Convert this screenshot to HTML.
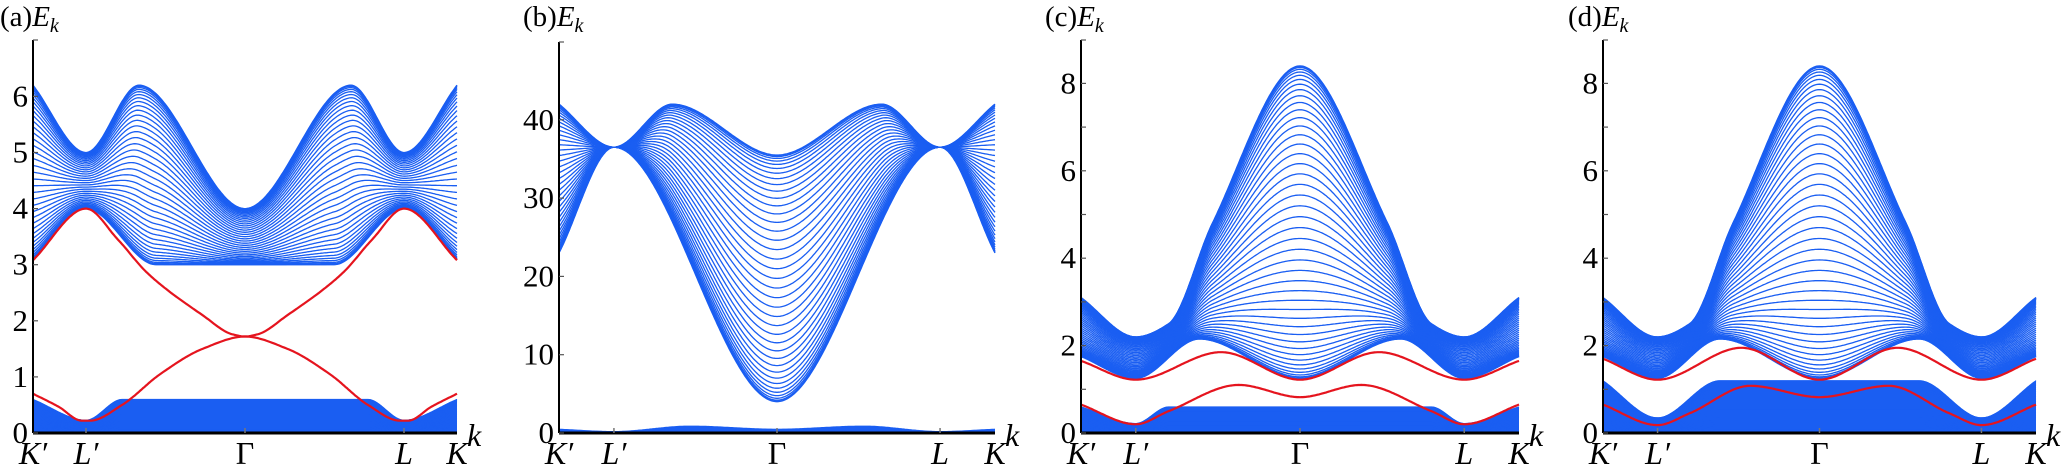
<!DOCTYPE html>
<html><head><meta charset="utf-8"><style>
html,body{margin:0;padding:0;background:#fff;}
svg{display:block;}
</style></head><body>
<svg id="s" width="2070" height="467" viewBox="0 0 2070 467" xmlns="http://www.w3.org/2000/svg" font-family="'Liberation Serif','DejaVu Serif',serif"></svg>
<script>
const S=document.getElementById('s');const NS='http://www.w3.org/2000/svg';
const FF="Liberation Serif, DejaVu Serif, serif";
function el(t,a,txt){const e=document.createElementNS(NS,t);for(const k in a)e.setAttribute(k,a[k]);if(t==='text'){e.setAttribute('font-family',FF);e.style.fontFamily='"Liberation Serif","DejaVu Serif",serif';}if(txt!==undefined)e.textContent=txt;S.appendChild(e);return e;}
function pchip(pts){
  let P=pts.slice();for(let i=pts.length-2;i>=0;i--)P.push([1-pts[i][0],pts[i][1]]);
  const n=P.length,x=P.map(p=>p[0]),y=P.map(p=>p[1]),h=[],d=[],m=new Array(n).fill(0);
  for(let i=0;i<n-1;i++){h[i]=x[i+1]-x[i];d[i]=(y[i+1]-y[i])/h[i];}
  m[0]=d[0];m[n-1]=d[n-2];
  for(let i=1;i<n-1;i++){if(d[i-1]*d[i]<=0)m[i]=0;else{const w1=2*h[i]+h[i-1],w2=h[i]+2*h[i-1];m[i]=(w1+w2)/(w1/d[i-1]+w2/d[i]);}}
  return t=>{let i=0;while(i<n-2&&t>x[i+1])i++;const s=(t-x[i])/h[i],s2=s*s,s3=s2*s;
    return (2*s3-3*s2+1)*y[i]+(s3-2*s2+s)*h[i]*m[i]+(-2*s3+3*s2)*y[i+1]+(s3-s2)*h[i]*m[i+1];};
}
const BLUE='#1a5ef2',RED='#e5141e';
function panel(o){
  const {x0,x1,y0,u,top}=o;
  const X=t=>x0+t*(x1-x0),Y=v=>y0-v*u;
  const M=300;
  function band(f0p,f1p,N,fill){
    const f0=pchip(f0p),f1=pchip(f1p);
    if(fill){let d='M'+X(0)+','+Y(f1(0));for(let i=0;i<=M;i++){const t=i/M;d+=' L'+X(t).toFixed(1)+','+Y(f1(t)).toFixed(1);}
      for(let i=M;i>=0;i--){const t=i/M;d+=' L'+X(t).toFixed(1)+','+Y(f0(t)).toFixed(1);}
      el('path',{d:d+'Z',fill:BLUE});}
    for(let j=0;j<=N;j++){const c=Math.cos(Math.PI*j/N);let d='';
      for(let i=0;i<=M;i++){const t=i/M,a=f0(t),b=f1(t),v=(a+b)/2+(a-b)/2*c;d+=(i?' L':'M')+X(t).toFixed(1)+','+Y(v).toFixed(1);}
      el('path',{d,fill:'none',stroke:BLUE,'stroke-width':fill?0.8:1.3});}
  }
  function red(p){const f=pchip(p);let d='';for(let i=0;i<=M;i++){const t=i/M;d+=(i?' L':'M')+X(t).toFixed(1)+','+Y(f(t)).toFixed(1);}
    el('path',{d,fill:'none',stroke:RED,'stroke-width':2.2});}
  o.bands.forEach(b=>band(b[0],b[1],b[2],b[3]));
  (o.reds||[]).forEach(red);
  el('line',{x1:x0,y1:top,x2:x0,y2:y0,stroke:'#000','stroke-width':2});
  el('line',{x1:x0,y1:y0,x2:x1,y2:y0,stroke:'#000','stroke-width':3});
  el('line',{x1:x0,y1:top,x2:x0+5,y2:top,stroke:'#555','stroke-width':1.2});
  o.ticks.forEach(v=>el('line',{x1:x0,y1:Y(v),x2:x0+5,y2:Y(v),stroke:'#555','stroke-width':1.2}));
  o.labels.forEach(v=>el('text',{x:x0-5,y:Y(v)+10,'font-size':31,'text-anchor':'end'},String(v)));
  const a=o.a;
  [a,0.5,1-a].forEach(t=>el('line',{x1:X(t),y1:y0,x2:X(t),y2:y0-5,stroke:'#777','stroke-width':1.5}));
  const xl=[[0,"K′",1],[a,"L′",1],[0.5,"Γ",0],[1-a,"L",1],[1,"K",1]];
  xl.forEach(([t,s,it])=>el('text',{x:X(t),y:464,'font-size':32,'text-anchor':'middle','font-style':it?'italic':'normal'},s));
  el('text',{x:x1+10,y:446,'font-size':32,'font-style':'italic'},'k');
  const tt=el('text',{x:o.lx,y:26,'font-size':29});
  tt.innerHTML='('+o.name+')<tspan font-style="italic">E</tspan><tspan font-style="italic" font-size="20" dy="6">k</tspan>';
}
panel({name:'a',lx:0,x0:33,x1:457,y0:433,u:56.1,top:40,a:0.125,
 ticks:[0,1,2,3,4,5,6],labels:[0,1,2,3,4,5,6],
 bands:[
  [[[0,6.2],[0.125,5.0],[0.25,6.2],[0.5,4.0]],
   [[0,3.1],[0.125,4.0],[0.29,3.0],[0.5,3.0]],40,false],
  [[[0,0.6],[0.125,0.23],[0.21,0.6],[0.5,0.6]],[[0,0],[0.5,0]],30,true]
 ],
 reds:[[[0,3.08],[0.125,4.0],[0.2,3.45],[0.27,2.85],[0.4,2.1],[0.47,1.76],[0.5,1.72]],
       [[0,0.7],[0.06,0.47],[0.115,0.22],[0.135,0.22],[0.21,0.5],[0.3,1.05],[0.4,1.5],[0.5,1.72]]]});
panel({name:'b',lx:523,x0:559,x1:995,y0:433,u:7.83,top:42,a:0.126,
 ticks:[0,10,20,30,40],labels:[0,10,20,30,40],
 bands:[
  [[[0,42],[0.126,36.5],[0.26,42],[0.5,35.5]],
   [[0,23],[0.126,36.5],[0.5,4]],40,false],
  [[[0,0.5],[0.126,0.2],[0.3,0.9],[0.5,0.5]],[[0,0],[0.5,0]],6,true]
 ]});
const upC=[[[0,3.1],[0.125,2.2],[0.2,2.5],[0.3,4.8],[0.5,8.4]],
           [[0,1.75],[0.125,1.25],[0.27,2.15],[0.5,1.25]],45,false];
panel({name:'c',lx:1045,x0:1081,x1:1519,y0:433,u:43.7,top:40,a:0.125,
 ticks:[0,1,2,3,4,5,6,7,8],labels:[0,2,4,6,8],
 bands:[upC,[[[0,0.6],[0.125,0.22],[0.2,0.6],[0.5,0.6]],[[0,0],[0.5,0]],25,true]],
 reds:[[[0,1.65],[0.125,1.22],[0.32,1.85],[0.5,1.22]],
       [[0,0.65],[0.125,0.2],[0.2,0.5],[0.36,1.1],[0.5,0.82]]]});
panel({name:'d',lx:1568,x0:1603,x1:2036,y0:433,u:43.7,top:40,a:0.126,
 ticks:[0,1,2,3,4,5,6,7,8],labels:[0,2,4,6,8],
 bands:[upC,[[[0,1.2],[0.126,0.35],[0.27,1.2],[0.5,1.2]],[[0,0],[0.5,0]],30,true]],
 reds:[[[0,1.7],[0.126,1.22],[0.32,1.95],[0.5,1.22]],
       [[0,0.65],[0.126,0.18],[0.2,0.45],[0.34,1.08],[0.5,0.82]]]});
</script>
</body></html>
